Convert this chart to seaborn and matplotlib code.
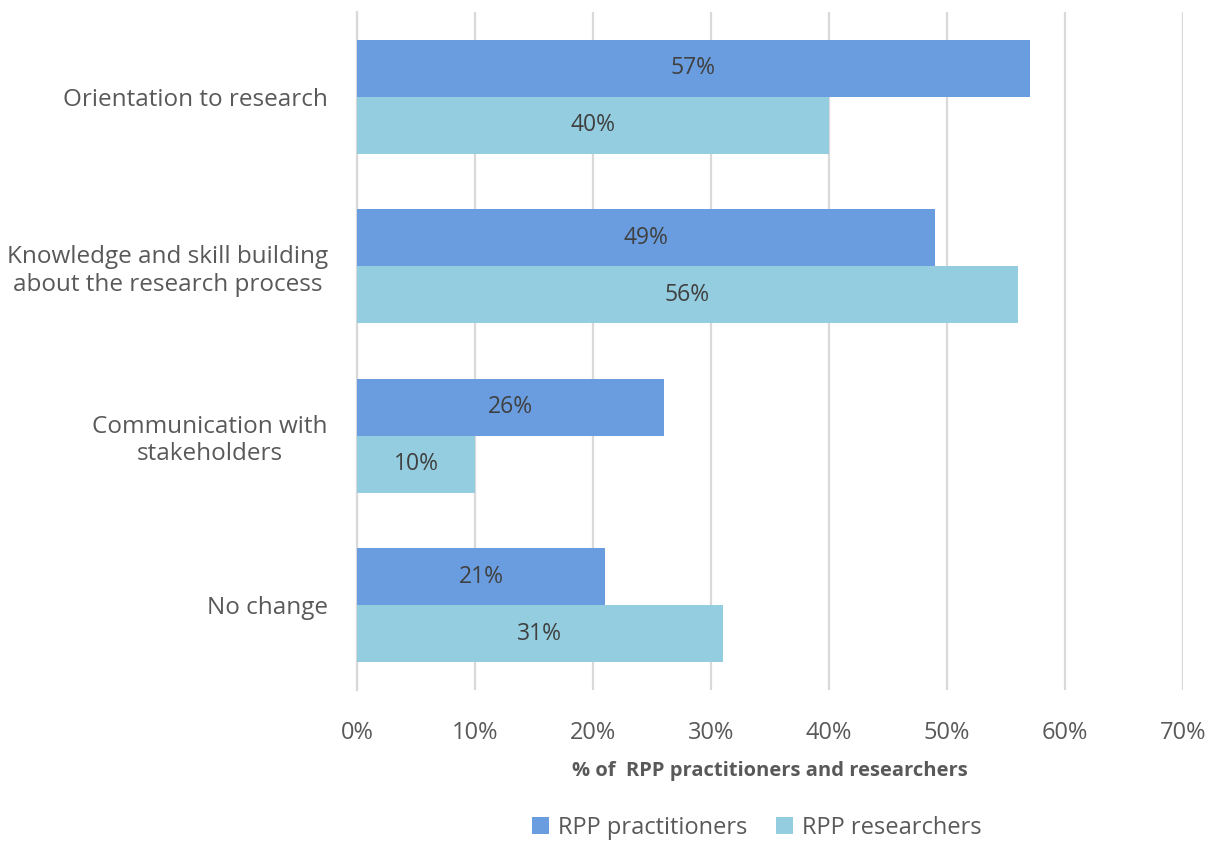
import matplotlib
matplotlib.use("Agg")
import matplotlib.pyplot as plt
import seaborn as sns
import pandas as pd
from matplotlib.ticker import MultipleLocator, FuncFormatter
from matplotlib.patches import Patch

categories = ["Orientation to research",
              "Knowledge and skill building\nabout the research process",
              "Communication with\nstakeholders",
              "No change"]
series_names = ["RPP practitioners", "RPP researchers"]
practitioners = [57, 49, 26, 21]
researchers = [40, 56, 10, 31]
colors = ["#6A9DDF", "#93CDDF"]

df = pd.DataFrame({
    "category": categories * 2,
    "group": [series_names[0]] * 4 + [series_names[1]] * 4,
    "value": practitioners + researchers,
})

sns.set_theme(style="white")
plt.rcParams["font.family"] = ["Open Sans", "DejaVu Sans"]

fig = plt.figure(figsize=(12.12, 8.42), dpi=100)
ax = fig.add_axes([357 / 1212, 1 - 690 / 842, (1183 - 357) / 1212, (690 - 12) / 842])

sns.barplot(data=df, y="category", x="value", hue="group", order=categories,
            hue_order=series_names, palette=colors, orient="h", width=0.675,
            saturation=1, ax=ax, legend=False, zorder=3, linewidth=0,
            edgecolor="none")

ax.set_xlim(0, 70)
ax.set_ylim(3.5, -0.5)
ax.xaxis.set_major_locator(MultipleLocator(10))
ax.xaxis.set_major_formatter(FuncFormatter(lambda v, p: f"{int(round(v))}%"))
ax.grid(axis="x", color="#D9D9D9", linewidth=1.6, zorder=0)
ax.grid(axis="y", visible=False)
for s in ["top", "right", "bottom"]:
    ax.spines[s].set_visible(False)
ax.spines["left"].set_color("#D9D9D9")
ax.spines["left"].set_linewidth(1.6)
ax.tick_params(axis="both", length=0, labelcolor="#595959")
ax.tick_params(axis="x", pad=22, labelsize=17)
ax.tick_params(axis="y", pad=21, labelsize=17.5)
for lbl in ax.get_yticklabels():
    lbl.set_multialignment("center")
ax.set_ylabel("")
ax.set_xlabel("% of  RPP practitioners and researchers", fontsize=14.5,
              fontweight="bold", color="#595959", labelpad=12)

for cont in ax.containers:
    ax.bar_label(cont, labels=[f"{int(round(v))}%" for v in cont.datavalues],
                 label_type="center", color="#404040", fontsize=16.5)

handles = [Patch(facecolor=c, edgecolor="none") for c in colors]
fig.legend(handles, series_names, loc="center", bbox_to_anchor=(757 / 1212, 1 - 828 / 842),
           ncol=2, frameon=False, fontsize=17, handlelength=0.7, handleheight=0.7,
           handletextpad=0.4, columnspacing=1.2, labelcolor="#595959")

fig.savefig("out.png", dpi=100, facecolor="white")
